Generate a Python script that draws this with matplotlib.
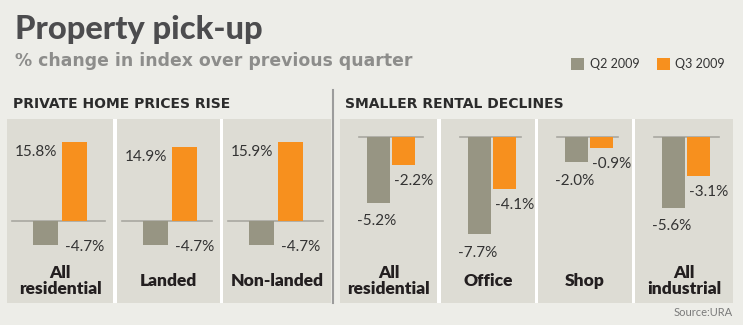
import matplotlib
matplotlib.use("Agg")
import matplotlib.pyplot as plt
from matplotlib.patches import Rectangle
from matplotlib.lines import Line2D

# ---- data ----
left_categories = ["All\nresidential", "Landed", "Non-landed"]
left_q2 = [-4.7, -4.7, -4.7]
left_q3 = [15.8, 14.9, 15.9]

right_categories = ["All\nresidential", "Office", "Shop", "All\nindustrial"]
right_q2 = [-5.2, -7.7, -2.0, -5.6]
right_q3 = [-2.2, -4.1, -0.9, -3.1]

series_labels = ["Q2 2009", "Q3 2009"]
title = "Property pick-up"
subtitle = "% change in index over previous quarter"
left_header = "PRIVATE HOME PRICES RISE"
right_header = "SMALLER RENTAL DECLINES"
source = "Source:URA"

# ---- style ----
W, H = 743, 325
BG = "#EDEDE8"
PANEL = "#DDDCD4"
Q2C = "#979583"
Q3C = "#F7901E"
ZERO = "#A9A8A1"
TXT = "#2b2b2b"
FONT = ["Lato", "DejaVu Sans"]
WIDE = ["DejaVu Sans"]

plt.rcParams["font.family"] = FONT

fig = plt.figure(figsize=(W / 100, H / 100), dpi=100, facecolor=BG)


def fx(x):
    return x / W


def fy(y):
    return 1 - y / H


def rect(x0, y0, x1, y1):
    return [fx(x0), fy(y1), (x1 - x0) / W, (y1 - y0) / H]


# titles
fig.text(fx(15), fy(39), title, fontsize=23.5, fontweight="black", color="#4c4c4e",
         va="baseline", ha="left")
fig.text(fx(15), fy(66), subtitle, fontsize=12.4, fontweight="bold", color="#8d8d8b",
         va="baseline", ha="left", family=WIDE)

# legend
fig.patches.append(Rectangle((fx(571), fy(70)), 13 / W, 12 / H, transform=fig.transFigure,
                             facecolor=Q2C, edgecolor="none"))
fig.text(fx(590), fy(64), series_labels[0], fontsize=9, color="#333333", va="center", ha="left")
fig.patches.append(Rectangle((fx(657), fy(70)), 13 / W, 12 / H, transform=fig.transFigure,
                             facecolor=Q3C, edgecolor="none"))
fig.text(fx(675), fy(64), series_labels[1], fontsize=9, color="#333333", va="center", ha="left")

# section headers
fig.text(fx(13), fy(104), left_header, fontsize=10, fontweight="bold", color=TXT,
         va="center", ha="left", family=WIDE)
fig.text(fx(345), fy(104), right_header, fontsize=10, fontweight="bold", color=TXT,
         va="center", ha="left", family=WIDE)

# divider
fig.add_artist(Line2D([fx(333), fx(333)], [fy(90), fy(303)], transform=fig.transFigure,
                      color="#9c9c9c", lw=1.5))

# white backing behind panel rows (gaps appear white)
PT, PB = 119, 303
for a, b in [(7, 331), (340, 733)]:
    r = Rectangle((fx(a), fy(PB)), (b - a) / W, (PB - PT) / H,
                  transform=fig.transFigure, facecolor="white", edgecolor="none", zorder=-10)
    fig.patches.append(r)

PX2PT = 72 / 100


def panel(x0, x1, cat, q2, q3, side):
    ax = fig.add_axes(rect(x0, PT, x1, PB))
    ax.set_facecolor(PANEL)
    for s in ax.spines.values():
        s.set_visible(False)
    ax.set_xticks([])
    ax.set_yticks([])
    w = x1 - x0
    hpx = PB - PT
    if side == "left":
        scale, zero_y, spacing, off, bw = 5.0, 221, 29.0, 38.5, 25 / 29
        lpad, rpad = 5, 8
    else:
        scale, zero_y, spacing, off, bw = 12.6, 137, 25.0, 38.5, 23 / 25
        lpad, rpad = 19, 14
    top = (zero_y - PT) / scale
    bot = -(PB - zero_y) / scale
    ax.set_ylim(bot, top)
    ax.set_xlim(-off / spacing, (w - off) / spacing)
    ax.axhline(0, xmin=lpad / w, xmax=1 - rpad / w, color=ZERO, lw=1.2, zorder=1)
    ax.bar([0], [q2], width=bw, color=Q2C, zorder=2)
    ax.bar([1], [q3], width=bw, color=Q3C, zorder=2)
    fs = 11
    lab = dict(textcoords="offset points", fontsize=fs, color="#333333",
               va="center_baseline")
    if side == "left":
        ax.annotate(f"{q3:.1f}%", xy=(1 - bw / 2, q3), xytext=(-5 * PX2PT, -9 * PX2PT),
                    ha="right", **lab)
        ax.annotate(f"{q2:.1f}%", xy=(1 - bw / 2, q2), xytext=(3 * PX2PT, -1 * PX2PT),
                    ha="left", **lab)
    else:
        ax.annotate(f"{q2:.1f}%", xy=(0, q2), xytext=(-2 * PX2PT, -17 * PX2PT),
                    ha="center", **lab)
        ax.annotate(f"{q3:.1f}%", xy=(1 - bw / 2, q3), xytext=(2 * PX2PT, -14.5 * PX2PT),
                    ha="left", **lab)
    ax.text(0.5, 1 - (281 - PT) / hpx, cat, transform=ax.transAxes, ha="center",
            va="center", fontsize=12.5, fontweight="heavy", color="#231f20", linespacing=1.0)
    return ax


left_x = [(7, 113), (117, 220), (223, 331)]
for (x0, x1), c, a, b in zip(left_x, left_categories, left_q2, left_q3):
    panel(x0, x1, c, a, b, "left")

right_x = [(340, 437), (441, 535), (538, 632), (635, 733)]
for (x0, x1), c, a, b in zip(right_x, right_categories, right_q2, right_q3):
    panel(x0, x1, c, a, b, "right")

fig.text(fx(733), fy(313), source, fontsize=8, color="#7a7a7a", ha="right", va="center")

fig.savefig("out.png", dpi=100, facecolor=BG)
